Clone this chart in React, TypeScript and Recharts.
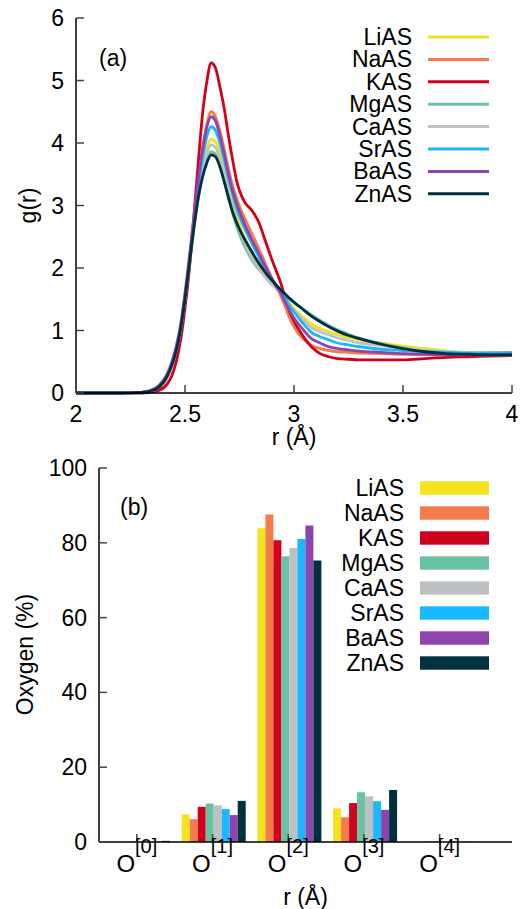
import React from 'react';
import { LineChart, Line, BarChart, Bar, XAxis, YAxis } from 'recharts';

const FONT = '"Liberation Sans", Arial, Helvetica, sans-serif';
const FS = 23;
const TICK_LEN = 8;
const TICK_STROKE = '#444';

// ---------- panel (a): g(r) ----------
const rValues = [2.0, 2.2, 2.3, 2.34, 2.38, 2.42, 2.44, 2.46, 2.48, 2.5, 2.52, 2.54, 2.56, 2.58, 2.6, 2.62, 2.64, 2.66, 2.68, 2.7, 2.72, 2.74, 2.76, 2.78, 2.8, 2.82, 2.84, 2.86, 2.88, 2.9, 2.92, 2.94, 2.96, 2.98, 3.0, 3.04, 3.08, 3.12, 3.16, 3.2, 3.25, 3.3, 3.4, 3.5, 3.6, 3.7, 3.8, 3.9, 4.0];
const gLiAS = [0, 0, 0.01, 0.03, 0.09, 0.28, 0.45, 0.68, 1.02, 1.5, 2.06, 2.66, 3.2, 3.62, 3.92, 4.06, 4.02, 3.84, 3.58, 3.28, 3.02, 2.8, 2.6, 2.43, 2.28, 2.15, 2.03, 1.93, 1.84, 1.76, 1.7, 1.62, 1.52, 1.43, 1.35, 1.22, 1.1, 1.03, 0.98, 0.93, 0.89, 0.85, 0.8, 0.75, 0.71, 0.67, 0.65, 0.64, 0.63];
const gNaAS = [0, 0, 0.01, 0.03, 0.08, 0.26, 0.43, 0.66, 1.0, 1.5, 2.08, 2.72, 3.35, 3.9, 4.3, 4.5, 4.42, 4.2, 3.9, 3.58, 3.3, 3.08, 2.9, 2.75, 2.6, 2.45, 2.3, 2.14, 1.98, 1.82, 1.68, 1.55, 1.38, 1.2, 1.06, 0.87, 0.76, 0.71, 0.68, 0.66, 0.65, 0.64, 0.63, 0.62, 0.62, 0.62, 0.63, 0.64, 0.65];
const gKAS = [0, 0, 0, 0.01, 0.04, 0.15, 0.28, 0.5, 0.85, 1.35, 1.98, 2.8, 3.65, 4.45, 4.98, 5.28, 5.2, 4.9, 4.55, 4.1, 3.7, 3.35, 3.15, 3.02, 2.95, 2.85, 2.72, 2.52, 2.32, 2.12, 1.94, 1.75, 1.52, 1.3, 1.15, 0.92, 0.74, 0.63, 0.58, 0.55, 0.54, 0.53, 0.53, 0.53, 0.55, 0.57, 0.58, 0.59, 0.6];
const gMgAS = [0, 0, 0.01, 0.03, 0.09, 0.28, 0.45, 0.68, 1.02, 1.5, 2.05, 2.62, 3.12, 3.5, 3.74, 3.86, 3.82, 3.66, 3.42, 3.12, 2.86, 2.64, 2.45, 2.3, 2.17, 2.06, 1.97, 1.9, 1.83, 1.76, 1.7, 1.65, 1.58, 1.52, 1.46, 1.35, 1.25, 1.16, 1.08, 1.01, 0.94, 0.88, 0.79, 0.72, 0.67, 0.64, 0.62, 0.61, 0.61];
const gCaAS = [0, 0, 0.01, 0.03, 0.09, 0.28, 0.45, 0.68, 1.02, 1.5, 2.06, 2.64, 3.16, 3.56, 3.84, 3.97, 3.93, 3.75, 3.5, 3.2, 2.95, 2.72, 2.52, 2.36, 2.22, 2.1, 1.99, 1.89, 1.8, 1.73, 1.66, 1.6, 1.5, 1.4, 1.32, 1.18, 1.05, 0.98, 0.93, 0.88, 0.84, 0.8, 0.76, 0.71, 0.68, 0.66, 0.64, 0.63, 0.62];
const gSrAS = [0, 0, 0.01, 0.03, 0.1, 0.29, 0.46, 0.7, 1.05, 1.55, 2.12, 2.74, 3.3, 3.75, 4.1, 4.26, 4.2, 4.0, 3.72, 3.42, 3.15, 2.92, 2.74, 2.58, 2.44, 2.3, 2.17, 2.04, 1.92, 1.82, 1.72, 1.63, 1.52, 1.4, 1.3, 1.12, 0.97, 0.9, 0.85, 0.8, 0.77, 0.74, 0.7, 0.68, 0.66, 0.65, 0.64, 0.64, 0.64];
const gBaAS = [0, 0, 0.01, 0.04, 0.12, 0.32, 0.5, 0.75, 1.1, 1.6, 2.18, 2.8, 3.4, 3.88, 4.25, 4.42, 4.35, 4.12, 3.82, 3.5, 3.22, 3.0, 2.82, 2.65, 2.5, 2.36, 2.22, 2.08, 1.95, 1.82, 1.7, 1.6, 1.45, 1.32, 1.2, 1.02, 0.87, 0.8, 0.74, 0.71, 0.69, 0.67, 0.65, 0.63, 0.62, 0.61, 0.61, 0.61, 0.62];
const gZnAS = [0, 0, 0.01, 0.03, 0.09, 0.28, 0.45, 0.68, 1.02, 1.5, 2.05, 2.62, 3.1, 3.45, 3.68, 3.81, 3.78, 3.62, 3.38, 3.12, 2.88, 2.7, 2.55, 2.42, 2.3, 2.18, 2.07, 1.97, 1.88, 1.8, 1.72, 1.65, 1.58, 1.51, 1.45, 1.34, 1.23, 1.14, 1.06, 0.99, 0.92, 0.87, 0.78, 0.71, 0.66, 0.63, 0.62, 0.61, 0.61];

const rTicks = [2, 2.5, 3, 3.5, 4];
const gTicks = [0, 1, 2, 3, 4, 5, 6];

// ---------- panel (b): oxygen species ----------
const categories = ['0', '1', '2', '3', '4'];
const oLiAS = [0, 7.4, 83.9, 9.0, 0];
const oNaAS = [0, 6.1, 87.6, 6.6, 0];
const oKAS = [0, 9.4, 80.7, 10.4, 0.1];
const oMgAS = [0.2, 10.3, 76.4, 13.3, 0.2];
const oCaAS = [0, 9.8, 78.6, 12.2, 0];
const oSrAS = [0, 8.8, 81.0, 10.9, 0.1];
const oBaAS = [0, 7.2, 84.6, 8.6, 0];
const oZnAS = [0.3, 11.0, 75.3, 13.9, 0.1];
const oxTicks = [0, 20, 40, 60, 80, 100];

const seriesNames = ['LiAS', 'NaAS', 'KAS', 'MgAS', 'CaAS', 'SrAS', 'BaAS', 'ZnAS'];
const lineColors = ['#f2e01c', '#f27b4c', '#d0021b', '#6cc3a3', '#bec2c5', '#1ab8fb', '#8e44ad', '#003040'];
const barColors = ['#f5e31b', '#f47b4a', '#d0021b', '#69c3a3', '#bdc1c4', '#1ab8fc', '#8e44ad', '#00313f'];

const gSeries = [gLiAS, gNaAS, gKAS, gMgAS, gCaAS, gSrAS, gBaAS, gZnAS];
const oSeries = [oLiAS, oNaAS, oKAS, oMgAS, oCaAS, oSrAS, oBaAS, oZnAS];

const gData = rValues.map((r, i) => {
  const row: any = { r };
  seriesNames.forEach((n, k) => { row[n] = gSeries[k][i]; });
  return row;
});
const oData = categories.map((c, i) => {
  const row: any = { cat: c };
  seriesNames.forEach((n, k) => { row[n] = oSeries[k][i]; });
  return row;
});

const txt = { fontFamily: FONT, fontSize: FS, fill: '#000' } as const;

// tick renderers: inward tick line + outside label
const BottomNumTick = (p: any) => (
  <g>
    <line x1={p.x} y1={p.y} x2={p.x} y2={p.y - TICK_LEN} stroke={TICK_STROKE} strokeWidth={1.5} />
    <text x={p.x} y={p.y + 20.5} textAnchor="middle" dominantBaseline="central" {...txt}>{String(p.payload.value)}</text>
  </g>
);
const TopTick = (p: any) => (
  <line x1={p.x} y1={p.y} x2={p.x} y2={p.y + TICK_LEN} stroke={TICK_STROKE} strokeWidth={1.5} />
);
const LeftTick = (p: any) => (
  <g>
    <line x1={p.x} y1={p.y} x2={p.x + TICK_LEN} y2={p.y} stroke={TICK_STROKE} strokeWidth={1.5} />
    <text x={p.x - 12} y={p.y} textAnchor="end" dominantBaseline="central" {...txt}>{String(p.payload.value)}</text>
  </g>
);
const RightTick = (p: any) => (
  <line x1={p.x} y1={p.y} x2={p.x - TICK_LEN} y2={p.y} stroke={TICK_STROKE} strokeWidth={1.5} />
);
const OTick = (p: any) => (
  <g>
    <line x1={p.x} y1={p.y} x2={p.x} y2={p.y - TICK_LEN} stroke={TICK_STROKE} strokeWidth={1.5} />
    <text x={p.x} y={p.y + 29.5} textAnchor="middle" fontFamily={FONT} fill="#000" style={{ fontSize: '24px' }}>
      O<tspan dy={-19} style={{ fontSize: '20px' }}>{`[${p.payload.value}]`}</tspan>
    </text>
  </g>
);

const axisLine = { stroke: '#000', strokeWidth: 1.5 };

export default function App() {
  return (
    <div style={{ position: 'absolute', left: 0, top: 0, width: 526, height: 909, background: '#fff' }}>
      {/* panel (a) */}
      <div style={{ position: 'absolute', left: 0, top: 0 }}>
        <LineChart width={526} height={450} data={gData} margin={{ top: 18, right: 14, bottom: 0, left: 0 }}>
          <XAxis dataKey="r" type="number" domain={[2, 4]} ticks={rTicks} interval={0} height={57}
            tickSize={0} tickMargin={0} tick={BottomNumTick} axisLine={axisLine} tickLine={false} />
          <XAxis xAxisId="top" orientation="top" dataKey="r" type="number" domain={[2, 4]} ticks={rTicks} interval={0}
            height={0} tickSize={0} tickMargin={0} tick={TopTick} axisLine={axisLine} tickLine={false} />
          <YAxis type="number" domain={[0, 6]} ticks={gTicks} interval={0} width={76}
            tickSize={0} tickMargin={0} tick={LeftTick} axisLine={axisLine} tickLine={false} />
          <YAxis yAxisId="right" orientation="right" type="number" domain={[0, 6]} ticks={gTicks} interval={0} width={0}
            tickSize={0} tickMargin={0} tick={RightTick} axisLine={axisLine} tickLine={false} />
          {seriesNames.map((n, k) => (
            <Line key={n} dataKey={n} type="monotone" stroke={lineColors[k]} strokeWidth={2.8}
              dot={false} isAnimationActive={false} />
          ))}
        </LineChart>
        <svg width={526} height={450} style={{ position: 'absolute', left: 0, top: 0, pointerEvents: 'none' }}>
          <text x={99} y={58} dominantBaseline="central" {...txt}>(a)</text>
          <text x={28} y={205.5} textAnchor="middle" dominantBaseline="central" transform="rotate(-90 28 205.5)" {...txt}>g(r)</text>
          <text x={294} y={437} textAnchor="middle" dominantBaseline="central" {...txt}>r (Å)</text>
          {seriesNames.map((n, k) => (
            <g key={n}>
              <text x={412} y={37 + k * 22.4} textAnchor="end" dominantBaseline="central" {...txt}>{n}</text>
              <line x1={428} x2={489} y1={37 + k * 22.4} y2={37 + k * 22.4} stroke={lineColors[k]} strokeWidth={3} />
            </g>
          ))}
        </svg>
      </div>

      {/* panel (b) */}
      <div style={{ position: 'absolute', left: 0, top: 450 }}>
        <BarChart width={526} height={459} data={oData} margin={{ top: 18, right: 14, bottom: 0, left: 0 }}
          barGap={0} barCategoryGap={7}>
          <XAxis dataKey="cat" interval={0} height={67} padding={{ left: 0, right: 34.5 }}
            tickSize={0} tickMargin={0} tick={OTick} axisLine={axisLine} tickLine={false} />
          <XAxis xAxisId="top" orientation="top" dataKey="cat" interval={0} height={0} padding={{ left: 0, right: 34.5 }}
            tickSize={0} tickMargin={0} tick={TopTick} axisLine={axisLine} tickLine={false} />
          <YAxis type="number" domain={[0, 100]} ticks={oxTicks} interval={0} width={99}
            tickSize={0} tickMargin={0} tick={LeftTick} axisLine={axisLine} tickLine={false} />
          <YAxis yAxisId="right" orientation="right" type="number" domain={[0, 100]} ticks={oxTicks} interval={0} width={0}
            tickSize={0} tickMargin={0} tick={RightTick} axisLine={axisLine} tickLine={false} />
          {seriesNames.map((n, k) => (
            <Bar key={n} dataKey={n} fill={barColors[k]} isAnimationActive={false} />
          ))}
        </BarChart>
        <svg width={526} height={459} style={{ position: 'absolute', left: 0, top: 0, pointerEvents: 'none' }}>
          <text x={120} y={57} dominantBaseline="central" {...txt}>(b)</text>
          <text x={25} y={204.5} textAnchor="middle" dominantBaseline="central" transform="rotate(-90 25 204.5)" {...txt}>Oxygen (%)</text>
          <text x={305.5} y={447} textAnchor="middle" dominantBaseline="central" {...txt}>r (Å)</text>
          {seriesNames.map((n, k) => (
            <g key={n}>
              <text x={404} y={38 + k * 25} textAnchor="end" dominantBaseline="central" {...txt}>{n}</text>
              <rect x={420} y={38 + k * 25 - 6.7} width={69} height={13.4} fill={barColors[k]} />
            </g>
          ))}
        </svg>
      </div>
    </div>
  );
}
